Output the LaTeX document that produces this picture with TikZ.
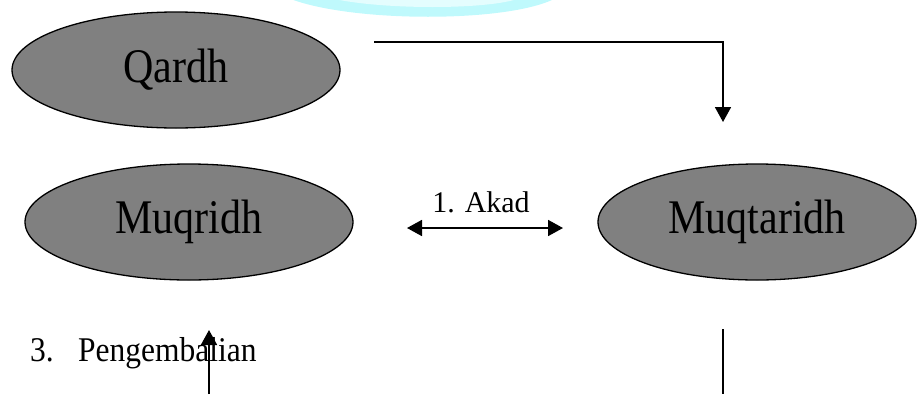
\documentclass[tikz,border=0pt]{standalone}
\usepackage{fontspec}
\setmainfont{Liberation Serif}
\usetikzlibrary{arrows.meta,shapes.geometric}
\definecolor{bubblegray}{RGB}{128,128,128}
\definecolor{glowcyan}{RGB}{191,249,252}
\definecolor{glowpale}{RGB}{228,253,254}
% tall lettering used inside the bubbles and for the numbered caption
\newcommand{\tallword}[2]{\scalebox{1}[#1]{#2}}
\begin{document}
\begin{tikzpicture}[x=1pt,y=-1pt,
  party/.style={ellipse,draw=black,line width=1.3pt,fill=bubblegray,
    inner sep=0pt,font=\fontsize{42}{42}\selectfont},
  flow/.style={line width=1.8pt,-{Triangle[length=15pt,width=16pt]}},
  twoway/.style={line width=1.8pt,{Triangle[length=15pt,width=16pt]}-{Triangle[length=15pt,width=16pt]}},
  plain/.style={line width=1.8pt},
  caption/.style={inner sep=0pt,font=\fontsize{31.5}{31.5}\selectfont}]
\useasboundingbox (0,0) rectangle (917,394);

% soft cyan band at the top edge
\fill[glowcyan] (288,-2) .. controls (350,23) and (510,23) .. (556,-2) -- cycle;
\fill[glowpale] (330,-2) .. controls (380,10) and (490,10) .. (520,-2) -- cycle;

% parties
\node[party,minimum width=328pt,minimum height=116pt] (qardh) at (176,70) {\tallword{1.15}{Qardh}};
\node[party,minimum width=328pt,minimum height=116pt] (muqridh) at (189,222) {\tallword{1.15}{Muqridh}};
\node[party,minimum width=318pt,minimum height=116pt] (muqtaridh) at (757,222) {\tallword{1.15}{Muqtaridh}};

% connector ends
\coordinate (qstart) at (374,42);
\coordinate (qend) at (723,122);
\coordinate (akadL) at (407,228);
\coordinate (akadR) at (563,228);
\coordinate (backFoot) at (209,394);
\coordinate (backTip) at (209,330);
\coordinate (giveTop) at (723,329);
\coordinate (giveFoot) at (723,394);

\draw[flow] (qstart) -| (qend);
\draw[twoway] (akadL) -- (akadR);
\node[caption,font=\fontsize{30}{30}\selectfont,anchor=base] (akad) at (481,212) {1. Akad};

\node[caption,anchor=base west] (kembali) at (30,361) {\tallword{1.1}{\makebox[48pt][l]{3.}Pengembalian}};
\draw[flow] (backFoot) -- (backTip);
\draw[plain] (giveTop) -- (giveFoot);
\end{tikzpicture}
\end{document}
